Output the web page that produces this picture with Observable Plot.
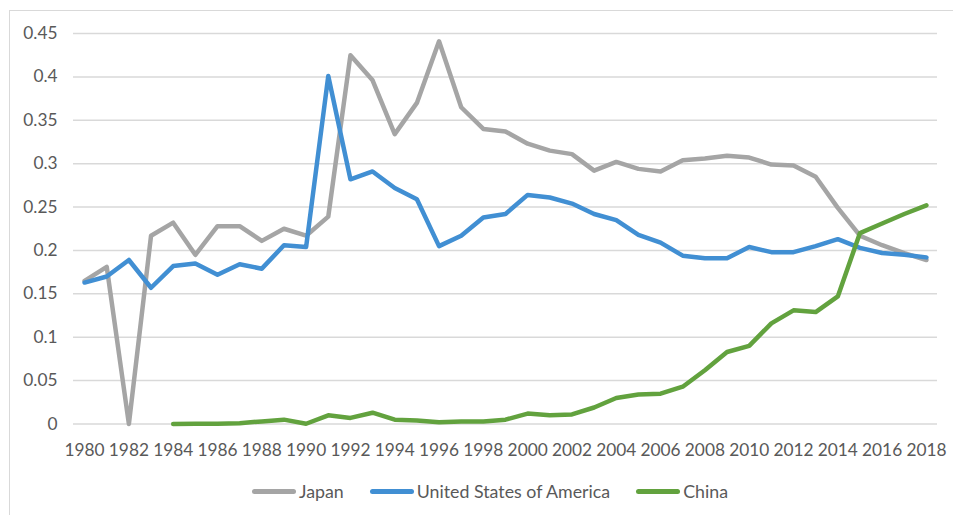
<!DOCTYPE html>
<html>
<head>
<meta charset="utf-8">
<script src="https://cdn.jsdelivr.net/npm/d3@7"></script>
<script src="https://cdn.jsdelivr.net/npm/@observablehq/plot@0.6"></script>
<style>
  html, body { margin: 0; padding: 0; background: #fff; }
  #wrap { position: relative; width: 953px; height: 515px; overflow: hidden; font-family: Lato, "Open Sans", sans-serif; }
  #frame { position: absolute; left: 9px; top: 10px; width: 960px; height: 520px; border-left: 1.5px solid #d9d9d9; border-top: 1.5px solid #d9d9d9; box-sizing: border-box; }
  #chart { position: absolute; left: 0; top: 0; }
  #legend { position: absolute; left: 0; width: 953px; top: 479px; height: 24px; display: flex; justify-content: center; align-items: center; gap: 26px; color: #595959; font-size: 17.8px; padding-left: 27px; box-sizing: border-box; }
  .item { display: flex; align-items: center; gap: 3px; }
  .sw { width: 44px; height: 5px; border-radius: 3px; }
</style>
</head>
<body>
<div id="wrap">
  <div id="frame"></div>
  <div id="chart"></div>
  <div id="legend"></div>
</div>
<script>
const years = d3.range(1980, 2019);
const seriesNames = ["Japan", "United States of America", "China"];
const seriesColors = ["#A5A5A5", "#418FD3", "#62A23E"];

const japan = [0.165, 0.181, 0.000, 0.217, 0.232, 0.195, 0.228, 0.228, 0.211, 0.225,
  0.217, 0.239, 0.425, 0.396, 0.334, 0.370, 0.441, 0.365, 0.340, 0.337,
  0.323, 0.315, 0.311, 0.292, 0.302, 0.294, 0.291, 0.304, 0.306, 0.309,
  0.307, 0.299, 0.298, 0.285, 0.249, 0.217, 0.206, 0.197, 0.189];

const usa = [0.163, 0.170, 0.189, 0.157, 0.182, 0.185, 0.172, 0.184, 0.179, 0.206,
  0.204, 0.401, 0.282, 0.291, 0.272, 0.259, 0.205, 0.217, 0.238, 0.242,
  0.264, 0.261, 0.254, 0.242, 0.235, 0.218, 0.209, 0.194, 0.191, 0.191,
  0.204, 0.198, 0.198, 0.205, 0.213, 0.203, 0.197, 0.195, 0.192];

// China starts in 1984
const china = [null, null, null, null, 0.000, 0.0003, 0.0004, 0.001, 0.003, 0.005,
  0.0003, 0.010, 0.007, 0.013, 0.005, 0.004, 0.002, 0.003, 0.003, 0.005,
  0.012, 0.010, 0.011, 0.019, 0.030, 0.034, 0.035, 0.043, 0.062, 0.083,
  0.090, 0.116, 0.131, 0.129, 0.147, 0.220, 0.231, 0.242, 0.252];

const yTicks = [0, 0.05, 0.1, 0.15, 0.2, 0.25, 0.3, 0.35, 0.4, 0.45];
const yTickLabels = ["0", "0.05", "0.1", "0.15", "0.2", "0.25", "0.3", "0.35", "0.4", "0.45"];
const xTicks = d3.range(1980, 2019, 2);

const allSeries = [japan, usa, china];
const rows = [];
allSeries.forEach((vals, si) => {
  vals.forEach((v, i) => {
    if (v !== null) rows.push({ year: years[i], value: v, series: seriesNames[si] });
  });
});

const chart = Plot.plot({
  width: 953,
  height: 515,
  marginLeft: 73,
  marginRight: 16,
  marginTop: 33,
  marginBottom: 91.5,
  style: { fontFamily: "Lato, 'Open Sans', sans-serif", fontSize: "17.3px", color: "#595959", background: "transparent" },
  x: { domain: [1979.5, 2018.5], ticks: xTicks, tickFormat: d => String(d), tickSize: 0, tickPadding: 19.5, label: null },
  y: { domain: [0, 0.45], ticks: yTicks, tickFormat: d => yTickLabels[yTicks.indexOf(d)], tickSize: 0, tickPadding: 16, label: null },
  color: { domain: seriesNames, range: seriesColors },
  marks: [
    Plot.ruleY(yTicks, { stroke: "#d9d9d9", strokeWidth: 1.5, strokeOpacity: 1 }),
    Plot.axisX({ ticks: xTicks, tickFormat: d => String(d), tickSize: 0, tickPadding: 19.5, fill: "#595959", label: null }),
    Plot.axisY({ ticks: yTicks, tickFormat: d => yTickLabels[yTicks.indexOf(d)], tickSize: 0, tickPadding: 16, fill: "#595959", label: null }),
    Plot.lineY(rows, { x: "year", y: "value", z: "series", stroke: "series", strokeWidth: 4.5, strokeLinejoin: "round", strokeLinecap: "round" })
  ]
});
document.getElementById("chart").appendChild(chart);

const legend = document.getElementById("legend");
seriesNames.forEach((name, i) => {
  const item = document.createElement("div");
  item.className = "item";
  const sw = document.createElement("div");
  sw.className = "sw";
  sw.style.background = seriesColors[i];
  const lab = document.createElement("span");
  lab.textContent = name;
  item.appendChild(sw);
  item.appendChild(lab);
  legend.appendChild(item);
});
</script>
</body>
</html>
